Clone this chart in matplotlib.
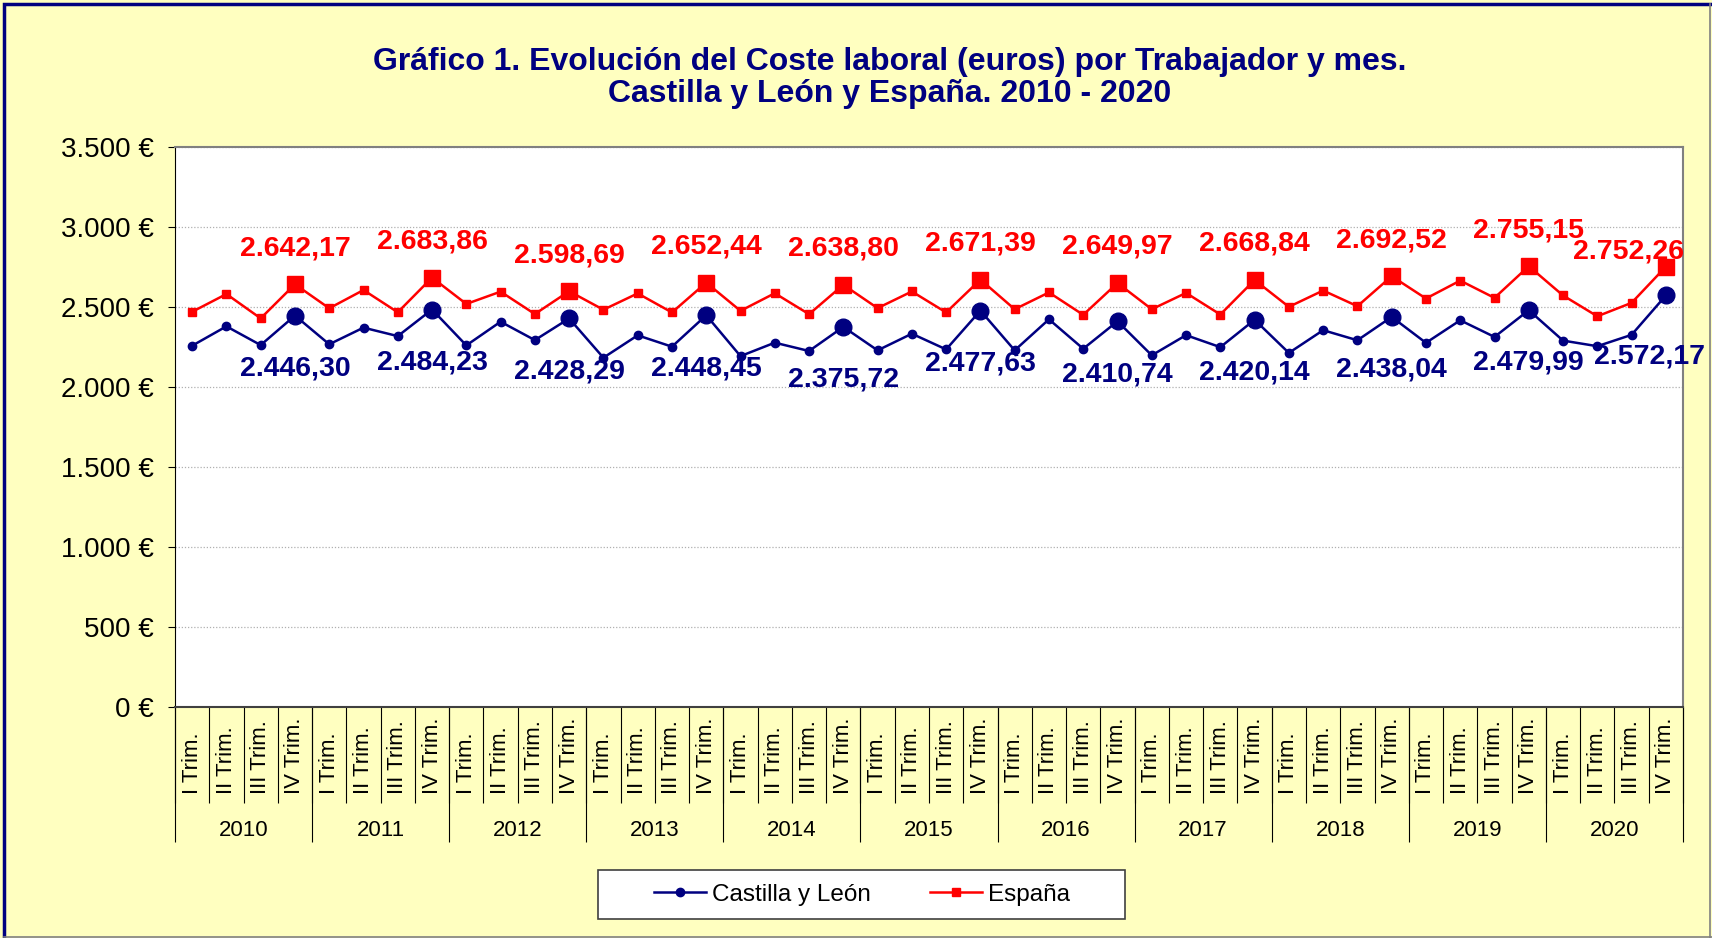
import numpy as np
import matplotlib
matplotlib.use('Agg')
import matplotlib.pyplot as plt
from matplotlib.patches import Rectangle
from matplotlib.lines import Line2D

plt.rcParams['font.family'] = ['Liberation Sans', 'DejaVu Sans']

years = ['2010', '2011', '2012', '2013', '2014', '2015', '2016', '2017', '2018', '2019', '2020']
quarters = ['I Trim.', 'II Trim.', 'III Trim.', 'IV Trim.']

# Castilla y Leon, euros per worker and month (4 quarters per year)
cyl = [2258, 2379, 2262, 2446.30,
       2267, 2371, 2318, 2484.23,
       2260, 2408, 2293, 2428.29,
       2183, 2323, 2252, 2448.45,
       2193, 2277, 2225, 2375.72,
       2229, 2333, 2235, 2477.63,
       2229, 2423, 2239, 2410.74,
       2198, 2324, 2249, 2420.14,
       2213, 2355, 2292, 2438.04,
       2276, 2417, 2313, 2479.99,
       2290, 2255, 2326, 2572.17]
# Espana
esp = [2470, 2581, 2429, 2642.17,
       2492, 2606, 2467, 2683.86,
       2519, 2596, 2456, 2598.69,
       2483, 2585, 2466, 2652.44,
       2476, 2586, 2455, 2638.80,
       2493, 2597, 2466, 2671.39,
       2486, 2591, 2451, 2649.97,
       2486, 2588, 2453, 2668.84,
       2501, 2603, 2505, 2692.52,
       2553, 2665, 2557, 2755.15,
       2572, 2442, 2526, 2752.26]

navy = '#000080'
red = '#FF0000'
bg = '#FFFFC0'

def es_fmt(v, dec=2):
    s = '{:,.{d}f}'.format(v, d=dec)
    return s.replace(',', 'X').replace('.', ',').replace('X', '.')

n = len(cyl)
x = np.arange(n)
cyl = np.array(cyl)
esp = np.array(esp)

fig = plt.figure(figsize=(17.12, 9.38), dpi=100, facecolor=bg)
ax = fig.add_axes([175/1712, 1-707/938, (1683-175)/1712, (707-147)/938])
ax.set_facecolor('white')

ax.plot(x, cyl, color=navy, lw=1.8, marker='o', ms=6, label='Castilla y León')
ax.plot(x, esp, color=red, lw=1.8, marker='s', ms=6, label='España')
# big markers on IV Trim.
ax.plot(x[3::4], cyl[3::4], ls='none', marker='o', ms=12, color=navy)
ax.plot(x[3::4], esp[3::4], ls='none', marker='s', ms=12, color=red)

# last labels pushed left so they stay inside the plot
last = len(x[3::4]) - 1
for i, (xi, v) in enumerate(zip(x[3::4], esp[3::4])):
    dx, dy = (-27, 11) if i == last else (0, 26)
    ax.annotate(es_fmt(v), (xi, v), xytext=(dx, dy), textcoords='offset points',
                ha='center', va='center', color=red, fontsize=20.5, fontweight='bold')
for i, (xi, v) in enumerate(zip(x[3::4], cyl[3::4])):
    dx, dy = (-12, -44) if i == last else (0, -38)
    ax.annotate(es_fmt(v), (xi, v), xytext=(dx, dy), textcoords='offset points',
                ha='center', va='center', color=navy, fontsize=20.5, fontweight='bold')

# y axis
ax.set_ylim(0, 3500)
yt = np.arange(0, 3501, 500)
ax.set_yticks(yt, [es_fmt(v, 0) + ' €' for v in yt])
ax.tick_params(axis='y', labelsize=20, length=5, width=0.8, pad=10)
ax.grid(axis='y', color='#b0b0b0', ls=(0, (1, 1.5)), lw=0.9)
ax.set_axisbelow(True)

# x axis: quarters, then years
ax.set_xlim(-0.5, n - 0.5)
ax.set_xticks(x, quarters * len(years), rotation=90, va='bottom', fontsize=16)
ax.tick_params(axis='x', which='major', length=0, pad=63)
ax.set_xticks(np.arange(-0.5, n), minor=True)
ax.tick_params(axis='x', which='minor', length=69, width=0.8, color='black')

sec = ax.secondary_xaxis('bottom')
sec.set_xticks(np.arange(-0.5, n, 4), [''] * (len(years) + 1))
sec.tick_params(axis='x', which='major', length=97, width=0.8)
sec.set_xticks(np.arange(1.5, n, 4), years, minor=True)
sec.tick_params(axis='x', which='minor', length=0, pad=81, labelsize=16)
sec.spines['bottom'].set_visible(False)

for s in ['top', 'right']:
    ax.spines[s].set_color('#808080')
    ax.spines[s].set_linewidth(1.5)
ax.spines['left'].set_color('black')
ax.spines['bottom'].set_color('#404040')
ax.spines['bottom'].set_linewidth(1.5)

# title
fig.text(890/1712, 1-78/938,
         'Gráfico 1. Evolución del Coste laboral (euros) por Trabajador y mes.\n'
         'Castilla y León y España. 2010 - 2020',
         ha='center', va='center', color=navy, fontsize=23, fontweight='bold',
         linespacing=1.13)

# legend box
fig.patches.append(Rectangle((598/1712, 1-919/938), 527/1712, 49/938,
                             transform=fig.transFigure, facecolor='white',
                             edgecolor='#404040', lw=1.2, zorder=1))
h1 = Line2D([], [], color=navy, lw=1.8, marker='o', ms=6)
h2 = Line2D([], [], color=red, lw=1.8, marker='s', ms=6)
fig.legend([h1, h2], ['Castilla y León', 'España'], loc='center',
           bbox_to_anchor=(862/1712, 1-894.5/938), ncol=2, frameon=False,
           fontsize=17.5, handlelength=2.15, handletextpad=0.25, columnspacing=2.4)

# figure border
fig.patches.append(Rectangle((4/1712, -0.1), 1.2, 0.1 + 934/938,
                             transform=fig.transFigure, fill=False,
                             edgecolor=navy, lw=2.5))
fig.lines.append(Line2D([1710/1712, 1710/1712], [0, 934/938],
                        transform=fig.transFigure, color='#808080', lw=1.2))
fig.lines.append(Line2D([4/1712, 1], [1/938, 1/938],
                        transform=fig.transFigure, color='#808080', lw=1.2))

fig.savefig('out.png', dpi=100, facecolor=bg)
